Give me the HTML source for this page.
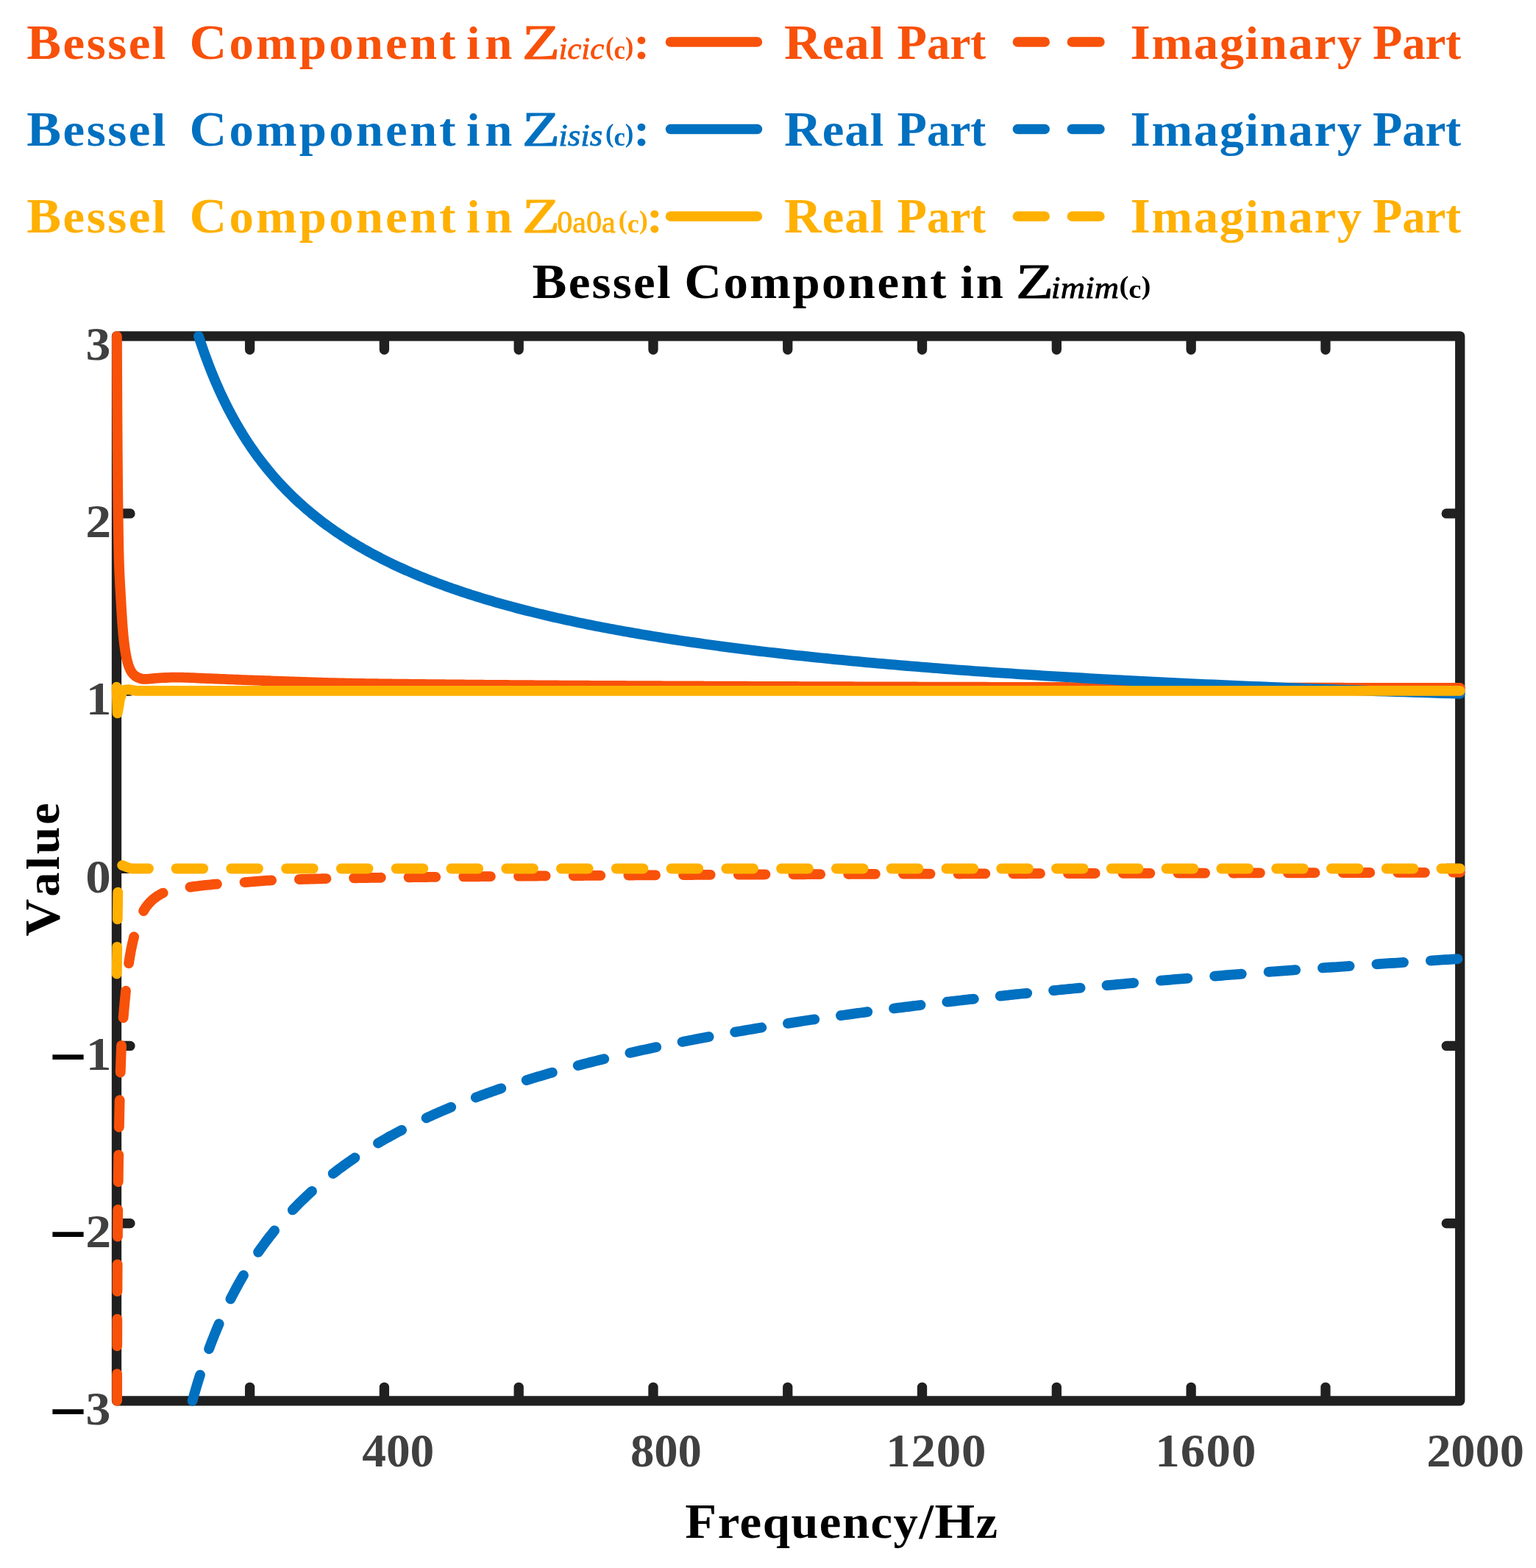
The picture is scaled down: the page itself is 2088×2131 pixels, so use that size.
<!DOCTYPE html>
<html lang="en">
<head>
<meta charset="utf-8">
<title>Bessel Component</title>
<style>
html,body{margin:0;padding:0;background:#fff;}
body{width:2088px;height:2131px;overflow:hidden;}
svg{display:block;}
text{font-family:"Liberation Serif","DejaVu Serif",serif;white-space:pre;}
.ln{fill:none;stroke-linecap:round;stroke-linejoin:round;}
</style>
</head>
<body>
<svg width="2088" height="2131" viewBox="0 0 2088 2131">
<rect width="2088" height="2131" fill="#fff"/>
<g class="ln" stroke="#202020" stroke-width="13.3">
<rect x="158.5" y="456.8" width="1826.20" height="1447.00"/>
<path d="M339.59 1901.8 V1885.30 M339.59 458.8 V475.30 M522.38 1901.8 V1885.30 M522.38 458.8 V475.30 M705.17 1901.8 V1885.30 M705.17 458.8 V475.30 M887.96 1901.8 V1885.30 M887.96 458.8 V475.30 M1070.75 1901.8 V1885.30 M1070.75 458.8 V475.30 M1253.54 1901.8 V1885.30 M1253.54 458.8 V475.30 M1436.33 1901.8 V1885.30 M1436.33 458.8 V475.30 M1619.12 1901.8 V1885.30 M1619.12 458.8 V475.30 M1801.91 1901.8 V1885.30 M1801.91 458.8 V475.30 M160.5 697.97 H177.00 M1982.7 697.97 H1966.20 M160.5 939.13 H177.00 M1982.7 939.13 H1966.20 M160.5 1180.30 H177.00 M1982.7 1180.30 H1966.20 M160.5 1421.47 H177.00 M1982.7 1421.47 H1966.20 M160.5 1662.63 H177.00 M1982.7 1662.63 H1966.20"/>
</g>
<path class="ln" stroke="#F8510A" stroke-width="13.8" d="M158.90 457.00 L158.92 460.78 L158.93 464.57 L158.95 468.35 L158.96 472.14 L158.98 475.92 L159.00 479.71 L159.02 483.49 L159.03 487.28 L159.05 491.06 L159.07 494.85 L159.09 498.63 L159.11 502.42 L159.12 506.20 L159.14 509.99 L159.16 513.77 L159.18 517.56 L159.20 521.34 L159.22 525.13 L159.24 528.91 L159.26 532.70 L159.28 536.48 L159.30 540.27 L159.32 544.05 L159.34 547.84 L159.36 551.62 L159.38 555.41 L159.41 559.19 L159.43 562.98 L159.45 566.76 L159.47 570.55 L159.49 574.33 L159.52 578.12 L159.54 581.90 L159.56 585.69 L159.59 589.47 L159.61 593.26 L159.64 597.04 L159.66 600.83 L159.69 604.61 L159.71 608.40 L159.74 612.18 L159.77 615.97 L159.80 619.75 L159.83 623.54 L159.86 627.32 L159.89 631.11 L159.92 634.89 L159.95 638.68 L159.98 642.46 L160.02 646.25 L160.05 650.03 L160.09 653.82 L160.12 657.60 L160.16 661.39 L160.20 665.17 L160.24 668.96 L160.28 672.74 L160.32 676.53 L160.36 680.31 L160.40 684.10 L160.45 687.88 L160.49 691.67 L160.54 695.45 L160.59 699.24 L160.64 703.02 L160.69 706.80 L160.74 710.59 L160.80 714.37 L160.86 718.16 L160.91 721.94 L160.98 725.73 L161.04 729.51 L161.11 733.30 L161.18 737.08 L161.25 740.87 L161.33 744.65 L161.42 748.44 L161.50 752.22 L161.60 756.00 L161.69 759.79 L161.80 763.57 L161.92 767.35 L162.06 771.13 L162.21 774.91 L162.37 778.70 L162.55 782.48 L162.73 786.26 L162.92 790.04 L163.12 793.82 L163.32 797.60 L163.53 801.38 L163.75 805.16 L163.97 808.94 L164.19 812.72 L164.42 816.50 L164.64 820.27 L164.86 824.05 L165.08 827.83 L165.31 831.61 L165.54 835.39 L165.78 839.17 L166.02 842.95 L166.28 846.73 L166.56 850.51 L166.85 854.28 L167.16 858.05 L167.50 861.82 L167.86 865.58 L168.25 869.35 L168.68 873.12 L169.14 876.90 L169.66 880.67 L170.23 884.43 L170.85 888.17 L171.54 891.87 L172.29 895.55 L173.15 899.23 L174.22 902.95 L175.49 906.61 L176.99 910.06 L178.76 913.24 L181.18 916.36 L184.05 918.91 L187.21 920.62 L190.84 922.08 L194.64 922.92 L198.35 922.95 L202.10 922.70 L205.88 922.32 L209.68 921.92 L213.48 921.59 L217.26 921.39 L221.04 921.19 L224.83 921.01 L228.61 920.85 L232.39 920.72 L236.18 920.63 L239.96 920.60 L243.74 920.62 L247.53 920.69 L251.31 920.79 L255.09 920.92 L258.87 921.07 L262.66 921.23 L266.44 921.41 L270.22 921.58 L274.00 921.75 L277.79 921.91 L281.57 922.06 L285.35 922.20 L289.13 922.36 L292.92 922.51 L296.70 922.67 L300.48 922.82 L304.26 922.98 L308.04 923.14 L311.83 923.30 L315.61 923.45 L319.39 923.60 L323.17 923.75 L326.95 923.89 L330.74 924.03 L334.52 924.16 L338.30 924.29 L342.08 924.43 L345.87 924.57 L349.65 924.70 L353.43 924.84 L357.21 924.98 L361.00 925.12 L364.78 925.25 L368.56 925.39 L372.35 925.53 L376.13 925.67 L379.91 925.80 L383.70 925.94 L387.48 926.08 L391.26 926.21 L395.04 926.34 L398.83 926.48 L402.61 926.61 L406.39 926.74 L410.18 926.86 L413.96 926.99 L417.74 927.11 L421.53 927.24 L425.31 927.36 L429.09 927.47 L432.88 927.59 L436.66 927.70 L440.45 927.81 L444.23 927.92 L448.01 928.03 L451.80 928.13 L455.58 928.23 L459.36 928.32 L463.15 928.41 L466.93 928.50 L470.71 928.59 L474.50 928.67 L478.28 928.74 L482.07 928.82 L485.85 928.88 L489.63 928.95 L493.42 929.01 L497.20 929.06 L500.99 929.11 L504.77 929.16 L508.55 929.21 L512.34 929.26 L516.12 929.30 L519.91 929.35 L523.69 929.40 L527.47 929.44 L531.26 929.49 L535.04 929.53 L538.83 929.58 L542.61 929.62 L546.40 929.66 L550.18 929.71 L553.96 929.75 L557.75 929.79 L561.53 929.83 L565.32 929.87 L569.10 929.92 L572.89 929.96 L576.67 930.00 L580.46 930.04 L584.24 930.08 L588.02 930.11 L591.81 930.15 L595.59 930.19 L599.38 930.23 L603.16 930.27 L606.95 930.30 L610.73 930.34 L614.52 930.38 L618.30 930.41 L622.09 930.45 L625.87 930.48 L629.66 930.52 L633.44 930.55 L637.23 930.58 L641.01 930.62 L644.79 930.65 L648.58 930.68 L652.36 930.72 L656.15 930.75 L659.93 930.78 L663.72 930.81 L667.50 930.84 L671.29 930.87 L675.07 930.90 L678.86 930.93 L682.64 930.96 L686.43 930.99 L690.21 931.02 L694.00 931.05 L697.78 931.08 L701.57 931.11 L705.35 931.14 L709.14 931.17 L712.92 931.19 L716.71 931.22 L720.49 931.25 L724.28 931.27 L728.06 931.30 L731.85 931.33 L735.63 931.35 L739.42 931.38 L743.20 931.40 L746.99 931.43 L750.78 931.45 L754.56 931.48 L758.35 931.50 L762.13 931.53 L765.92 931.55 L769.70 931.57 L773.49 931.60 L777.27 931.62 L781.06 931.64 L784.84 931.67 L788.63 931.69 L792.41 931.71 L796.20 931.73 L799.98 931.75 L803.77 931.78 L807.55 931.80 L811.34 931.82 L815.12 931.84 L818.91 931.86 L822.69 931.88 L826.48 931.90 L830.26 931.92 L834.05 931.94 L837.83 931.96 L841.62 931.98 L845.41 932.00 L849.19 932.02 L852.98 932.04 L856.76 932.06 L860.55 932.08 L864.33 932.10 L868.12 932.11 L871.90 932.13 L875.69 932.15 L879.47 932.17 L883.26 932.19 L887.04 932.21 L890.83 932.22 L894.61 932.24 L898.40 932.26 L902.18 932.28 L905.97 932.29 L909.75 932.31 L913.54 932.33 L917.32 932.35 L921.11 932.36 L924.89 932.38 L928.68 932.40 L932.47 932.41 L936.25 932.43 L940.04 932.45 L943.82 932.46 L947.61 932.48 L951.39 932.50 L955.18 932.51 L958.96 932.53 L962.75 932.54 L966.53 932.56 L970.32 932.58 L974.10 932.59 L977.89 932.61 L981.67 932.62 L985.46 932.64 L989.24 932.66 L993.03 932.67 L996.81 932.69 L1000.60 932.70 L1004.38 932.72 L1008.17 932.73 L1011.95 932.75 L1015.74 932.76 L1019.52 932.78 L1023.31 932.79 L1027.09 932.81 L1030.88 932.82 L1034.66 932.84 L1038.45 932.85 L1042.23 932.87 L1046.02 932.88 L1049.80 932.90 L1053.59 932.91 L1057.37 932.93 L1061.16 932.94 L1064.94 932.95 L1068.73 932.97 L1072.51 932.98 L1076.30 932.99 L1080.08 933.01 L1083.87 933.02 L1087.65 933.04 L1091.44 933.05 L1095.22 933.06 L1099.01 933.07 L1102.79 933.09 L1106.58 933.10 L1110.36 933.11 L1114.15 933.13 L1117.93 933.14 L1121.72 933.15 L1125.50 933.16 L1129.29 933.18 L1133.07 933.19 L1136.86 933.20 L1140.64 933.21 L1144.43 933.23 L1148.21 933.24 L1152.00 933.25 L1155.78 933.26 L1159.57 933.27 L1163.35 933.28 L1167.14 933.30 L1170.92 933.31 L1174.71 933.32 L1178.49 933.33 L1182.28 933.34 L1186.06 933.35 L1189.85 933.36 L1193.63 933.38 L1197.42 933.39 L1201.20 933.40 L1204.99 933.41 L1208.77 933.42 L1212.56 933.43 L1216.34 933.44 L1220.13 933.45 L1223.91 933.46 L1227.70 933.47 L1231.48 933.48 L1235.27 933.49 L1239.05 933.50 L1242.84 933.51 L1246.62 933.52 L1250.41 933.54 L1254.19 933.55 L1257.98 933.56 L1261.76 933.57 L1265.55 933.58 L1269.33 933.59 L1273.12 933.60 L1276.90 933.61 L1280.69 933.62 L1284.47 933.62 L1288.26 933.63 L1292.04 933.64 L1295.83 933.65 L1299.61 933.66 L1303.40 933.67 L1307.18 933.68 L1310.97 933.69 L1314.75 933.70 L1318.54 933.71 L1322.32 933.72 L1326.11 933.73 L1329.89 933.74 L1333.68 933.75 L1337.46 933.76 L1341.25 933.77 L1345.03 933.78 L1348.82 933.78 L1352.60 933.79 L1356.39 933.80 L1360.17 933.81 L1363.96 933.82 L1367.74 933.83 L1371.53 933.84 L1375.31 933.85 L1379.10 933.86 L1382.88 933.87 L1386.67 933.87 L1390.45 933.88 L1394.24 933.89 L1398.02 933.90 L1401.81 933.91 L1405.59 933.92 L1409.38 933.93 L1413.16 933.94 L1416.95 933.94 L1420.73 933.95 L1424.52 933.96 L1428.30 933.97 L1432.09 933.98 L1435.87 933.99 L1439.66 934.00 L1443.44 934.01 L1447.23 934.01 L1451.01 934.02 L1454.80 934.03 L1458.58 934.04 L1462.37 934.05 L1466.15 934.06 L1469.94 934.07 L1473.72 934.07 L1477.51 934.08 L1481.29 934.09 L1485.08 934.10 L1488.86 934.11 L1492.65 934.12 L1496.43 934.12 L1500.22 934.13 L1504.00 934.14 L1507.79 934.15 L1511.57 934.16 L1515.36 934.17 L1519.14 934.18 L1522.93 934.18 L1526.71 934.19 L1530.50 934.20 L1534.28 934.21 L1538.07 934.22 L1541.85 934.22 L1545.64 934.23 L1549.42 934.24 L1553.21 934.25 L1556.99 934.26 L1560.78 934.27 L1564.56 934.27 L1568.35 934.28 L1572.13 934.29 L1575.92 934.30 L1579.70 934.31 L1583.49 934.31 L1587.27 934.32 L1591.06 934.33 L1594.84 934.34 L1598.63 934.35 L1602.41 934.35 L1606.20 934.36 L1609.98 934.37 L1613.77 934.38 L1617.55 934.38 L1621.34 934.39 L1625.12 934.40 L1628.91 934.41 L1632.69 934.42 L1636.48 934.42 L1640.26 934.43 L1644.05 934.44 L1647.83 934.45 L1651.62 934.45 L1655.40 934.46 L1659.19 934.47 L1662.97 934.48 L1666.76 934.48 L1670.54 934.49 L1674.33 934.50 L1678.11 934.51 L1681.90 934.51 L1685.68 934.52 L1689.47 934.53 L1693.25 934.53 L1697.04 934.54 L1700.82 934.55 L1704.61 934.56 L1708.39 934.56 L1712.18 934.57 L1715.96 934.58 L1719.75 934.58 L1723.53 934.59 L1727.32 934.60 L1731.10 934.61 L1734.89 934.61 L1738.67 934.62 L1742.46 934.63 L1746.24 934.63 L1750.03 934.64 L1753.81 934.65 L1757.60 934.65 L1761.38 934.66 L1765.17 934.67 L1768.95 934.67 L1772.74 934.68 L1776.52 934.69 L1780.31 934.69 L1784.09 934.70 L1787.88 934.71 L1791.66 934.71 L1795.45 934.72 L1799.23 934.73 L1803.02 934.73 L1806.80 934.74 L1810.59 934.75 L1814.37 934.75 L1818.16 934.76 L1821.94 934.76 L1825.73 934.77 L1829.51 934.78 L1833.30 934.78 L1837.08 934.79 L1840.87 934.80 L1844.65 934.80 L1848.44 934.81 L1852.22 934.81 L1856.01 934.82 L1859.79 934.83 L1863.58 934.83 L1867.36 934.84 L1871.15 934.84 L1874.93 934.85 L1878.72 934.85 L1882.50 934.86 L1886.29 934.87 L1890.07 934.87 L1893.86 934.88 L1897.64 934.88 L1901.43 934.89 L1905.21 934.89 L1909.00 934.90 L1912.78 934.90 L1916.57 934.91 L1920.35 934.92 L1924.14 934.92 L1927.92 934.93 L1931.71 934.93 L1935.49 934.94 L1939.28 934.94 L1943.06 934.95 L1946.85 934.95 L1950.63 934.96 L1954.42 934.96 L1958.20 934.97 L1961.99 934.97 L1965.77 934.98 L1969.56 934.98 L1973.34 934.99 L1977.13 934.99 L1980.91 935.00 L1984.70 935.00"/>
<path class="ln" stroke="#F8510A" stroke-width="13.8" d="M159.10 1903.80 L159.10 1900.71 L159.10 1897.62 L159.11 1894.53 L159.11 1891.43 L159.11 1888.34 L159.11 1885.25 L159.12 1882.16 L159.12 1879.07 L159.13 1875.98 L159.13 1872.88 L159.13 1869.79 L159.14 1867.10 M159.22 1829.42 L159.23 1826.07 L159.24 1822.98 L159.25 1819.88 L159.25 1816.79 L159.26 1813.70 L159.27 1810.61 L159.28 1807.52 L159.29 1804.43 L159.30 1801.34 L159.31 1798.24 L159.31 1795.15 L159.32 1792.72 M159.48 1755.03 L159.49 1751.87 L159.51 1748.78 L159.52 1745.69 L159.54 1742.59 L159.56 1739.50 L159.57 1736.41 L159.59 1733.32 L159.61 1730.23 L159.63 1727.14 L159.65 1724.05 L159.67 1720.95 L159.68 1718.34 M159.94 1680.65 L159.97 1677.23 L160.00 1674.14 L160.02 1671.05 L160.05 1667.96 L160.08 1664.86 L160.11 1661.77 L160.14 1658.68 L160.17 1655.59 L160.20 1652.50 L160.23 1649.41 L160.26 1646.32 L160.29 1643.95 M160.72 1606.27 L160.76 1603.04 L160.80 1599.94 L160.84 1596.85 L160.88 1593.76 L160.92 1590.67 L160.97 1587.58 L161.01 1584.49 L161.05 1581.40 L161.10 1578.31 L161.14 1575.21 L161.19 1572.12 L161.23 1569.58 M161.89 1531.90 L161.95 1528.85 L162.01 1525.75 L162.08 1522.66 L162.14 1519.57 L162.20 1516.48 L162.27 1513.39 L162.34 1510.30 L162.40 1507.21 L162.47 1504.12 L162.55 1501.03 L162.62 1497.94 L162.68 1495.21 M163.73 1457.54 L163.84 1454.23 L163.94 1451.14 L164.04 1448.05 L164.15 1444.96 L164.25 1441.87 L164.36 1438.78 L164.48 1435.69 L164.59 1432.60 L164.71 1429.51 L164.84 1426.42 L164.98 1423.33 L165.10 1420.87 M167.62 1383.27 L167.87 1380.15 L168.13 1377.07 L168.40 1373.99 L168.67 1370.91 L168.95 1367.83 L169.24 1364.75 L169.53 1361.68 L169.83 1358.60 L170.14 1355.52 L170.44 1352.44 L170.75 1349.37 L171.02 1346.73 M175.08 1309.27 L175.56 1305.91 L176.03 1302.86 L176.52 1299.80 L177.05 1296.75 L177.61 1293.69 L178.19 1290.64 L178.81 1287.60 L179.46 1284.57 L180.13 1281.54 L180.84 1278.53 L181.57 1275.54 L182.15 1273.28 M195.14 1238.00 L196.69 1235.33 L198.50 1232.62 L200.39 1230.13 L202.46 1227.72 L204.64 1225.43 L206.91 1223.30 L209.23 1221.34 L211.66 1219.49 L214.23 1217.70 L216.93 1216.03 L219.70 1214.53 L221.70 1213.60 M258.43 1205.55 L261.77 1205.08 L264.83 1204.67 L267.90 1204.28 L270.96 1203.90 L274.04 1203.54 L277.11 1203.20 L280.19 1202.87 L283.27 1202.56 L286.35 1202.26 L289.43 1201.98 L292.51 1201.71 L294.90 1201.51 M332.51 1199.10 L335.70 1198.87 L338.78 1198.64 L341.87 1198.40 L344.95 1198.15 L348.03 1197.90 L351.11 1197.65 L354.20 1197.40 L357.28 1197.17 L360.36 1196.95 L363.45 1196.74 L366.53 1196.56 L369.11 1196.42 M406.77 1195.09 L409.79 1195.01 L412.88 1194.92 L415.97 1194.83 L419.06 1194.75 L422.15 1194.67 L425.24 1194.58 L428.33 1194.50 L431.42 1194.42 L434.51 1194.34 L437.60 1194.26 L440.69 1194.18 L443.45 1194.11 M481.13 1193.30 L484.41 1193.24 L487.50 1193.19 L490.59 1193.14 L493.68 1193.09 L496.77 1193.04 L499.86 1193.00 L502.95 1192.96 L506.04 1192.92 L509.14 1192.88 L512.23 1192.84 L515.32 1192.80 L517.82 1192.77 M555.50 1192.29 L558.59 1192.26 L561.69 1192.22 L564.78 1192.18 L567.87 1192.15 L570.96 1192.11 L574.05 1192.07 L577.14 1192.04 L580.23 1192.00 L583.32 1191.97 L586.42 1191.93 L589.51 1191.90 L592.20 1191.87 M630.21 1191.45 L633.23 1191.42 L636.32 1191.39 L639.41 1191.35 L642.50 1191.32 L645.59 1191.29 L648.68 1191.26 L651.78 1191.23 L654.87 1191.20 L657.96 1191.17 L661.05 1191.13 L664.14 1191.10 L666.91 1191.08 M704.91 1190.72 L708.31 1190.69 L711.40 1190.66 L714.49 1190.63 L717.58 1190.60 L720.67 1190.57 L723.76 1190.55 L726.86 1190.52 L729.95 1190.49 L733.04 1190.47 L736.13 1190.44 L739.22 1190.41 L741.61 1190.39 M779.62 1190.08 L782.95 1190.05 L786.04 1190.03 L789.13 1190.01 L792.22 1189.98 L795.31 1189.96 L798.40 1189.93 L801.49 1189.91 L804.59 1189.89 L807.68 1189.86 L810.77 1189.84 L813.86 1189.82 L816.32 1189.80 M854.33 1189.53 L857.59 1189.51 L860.68 1189.49 L863.77 1189.47 L866.86 1189.45 L869.95 1189.43 L873.04 1189.41 L876.14 1189.39 L879.23 1189.37 L882.32 1189.35 L885.41 1189.33 L888.50 1189.31 L891.03 1189.29 M929.04 1189.06 L932.23 1189.04 L935.32 1189.02 L938.41 1189.00 L941.50 1188.99 L944.59 1188.97 L947.69 1188.95 L950.78 1188.93 L953.87 1188.92 L956.96 1188.90 L960.05 1188.88 L963.14 1188.86 L965.74 1188.85 M1003.75 1188.65 L1006.87 1188.63 L1009.96 1188.62 L1013.05 1188.60 L1016.14 1188.59 L1019.24 1188.57 L1022.33 1188.56 L1025.42 1188.54 L1028.51 1188.53 L1031.60 1188.51 L1034.69 1188.50 L1037.79 1188.48 L1040.45 1188.47 M1078.46 1188.29 L1081.51 1188.28 L1084.60 1188.27 L1087.69 1188.25 L1090.78 1188.24 L1093.88 1188.23 L1096.97 1188.21 L1100.06 1188.20 L1103.15 1188.19 L1106.24 1188.17 L1109.33 1188.16 L1112.42 1188.15 L1115.16 1188.14 M1153.17 1187.98 L1156.59 1187.97 L1159.68 1187.96 L1162.77 1187.95 L1165.87 1187.94 L1168.96 1187.92 L1172.05 1187.91 L1175.14 1187.90 L1178.23 1187.89 L1181.32 1187.88 L1184.41 1187.87 L1187.51 1187.86 L1189.87 1187.85 M1227.88 1187.72 L1231.23 1187.71 L1234.32 1187.70 L1237.41 1187.69 L1240.50 1187.68 L1243.60 1187.67 L1246.69 1187.66 L1249.78 1187.65 L1252.87 1187.64 L1255.96 1187.63 L1259.05 1187.62 L1262.15 1187.61 L1264.58 1187.60 M1302.58 1187.49 L1305.87 1187.48 L1308.96 1187.47 L1312.05 1187.46 L1315.15 1187.45 L1318.24 1187.44 L1321.33 1187.43 L1324.42 1187.43 L1327.51 1187.42 L1330.60 1187.41 L1333.69 1187.40 L1336.79 1187.39 L1339.28 1187.38 M1377.29 1187.28 L1380.51 1187.27 L1383.60 1187.26 L1386.69 1187.26 L1389.79 1187.25 L1392.88 1187.24 L1395.97 1187.23 L1399.06 1187.22 L1402.15 1187.22 L1405.24 1187.21 L1408.34 1187.20 L1411.43 1187.19 L1413.99 1187.18 M1452.00 1187.09 L1455.15 1187.08 L1458.24 1187.07 L1461.33 1187.06 L1464.43 1187.06 L1467.52 1187.05 L1470.61 1187.04 L1473.70 1187.03 L1476.79 1187.02 L1479.88 1187.02 L1482.98 1187.01 L1486.07 1187.00 L1488.70 1186.99 M1526.71 1186.90 L1529.79 1186.89 L1532.88 1186.88 L1535.97 1186.87 L1539.07 1186.86 L1542.16 1186.86 L1545.25 1186.85 L1548.34 1186.84 L1551.43 1186.83 L1554.52 1186.82 L1557.62 1186.81 L1560.71 1186.81 L1563.41 1186.80 M1601.42 1186.70 L1604.43 1186.69 L1607.52 1186.68 L1610.62 1186.67 L1613.71 1186.66 L1616.80 1186.65 L1619.89 1186.64 L1622.98 1186.64 L1626.07 1186.63 L1629.16 1186.62 L1632.26 1186.61 L1635.35 1186.60 L1638.12 1186.59 M1676.13 1186.49 L1679.51 1186.48 L1682.61 1186.47 L1685.70 1186.47 L1688.79 1186.46 L1691.88 1186.45 L1694.97 1186.44 L1698.06 1186.43 L1701.16 1186.42 L1704.25 1186.42 L1707.34 1186.41 L1710.43 1186.40 L1712.83 1186.39 M1750.84 1186.29 L1754.15 1186.28 L1757.25 1186.27 L1760.34 1186.27 L1763.43 1186.26 L1766.52 1186.25 L1769.61 1186.24 L1772.70 1186.23 L1775.80 1186.23 L1778.89 1186.22 L1781.98 1186.21 L1785.07 1186.20 L1787.54 1186.20 M1825.55 1186.10 L1828.79 1186.09 L1831.89 1186.08 L1834.98 1186.07 L1838.07 1186.07 L1841.16 1186.06 L1844.25 1186.05 L1847.34 1186.04 L1850.44 1186.03 L1853.53 1186.03 L1856.62 1186.02 L1859.71 1186.01 L1862.25 1186.00 M1900.26 1185.91 L1903.43 1185.90 L1906.53 1185.89 L1909.62 1185.88 L1912.71 1185.88 L1915.80 1185.87 L1918.89 1185.86 L1921.98 1185.85 L1925.08 1185.85 L1928.17 1185.84 L1931.26 1185.83 L1934.35 1185.82 L1936.96 1185.82 M1974.97 1185.72 L1978.08 1185.72 L1981.17 1185.71 L1984.26 1185.70 L1984.70 1185.70"/>
<path class="ln" stroke="#0070C0" stroke-width="13.8" d="M269.99 456.80 L270.77 459.23 L271.56 461.64 L272.36 464.05 L273.16 466.45 L273.96 468.84 L274.78 471.23 L275.59 473.60 L276.42 475.96 L278.08 480.67 L279.77 485.34 L281.48 489.97 L283.22 494.58 L284.98 499.14 L286.76 503.68 L288.57 508.18 L290.41 512.65 L292.27 517.08 L294.16 521.49 L296.07 525.86 L298.01 530.20 L299.98 534.50 L301.98 538.78 L304.00 543.02 L306.06 547.23 L308.14 551.41 L310.25 555.56 L312.40 559.68 L314.57 563.77 L316.77 567.83 L319.00 571.86 L321.27 575.85 L323.57 579.82 L325.90 583.76 L328.26 587.67 L330.65 591.55 L333.08 595.40 L335.55 599.23 L338.05 603.02 L340.58 606.79 L343.15 610.52 L345.76 614.23 L348.40 617.92 L351.08 621.57 L353.80 625.20 L356.56 628.80 L359.35 632.37 L362.19 635.91 L365.06 639.43 L367.98 642.93 L370.93 646.39 L373.93 649.83 L376.97 653.24 L380.06 656.63 L383.18 659.99 L386.35 663.33 L389.57 666.64 L392.83 669.92 L396.14 673.18 L399.49 676.42 L402.89 679.63 L406.34 682.82 L409.84 685.98 L413.39 689.11 L416.99 692.23 L420.63 695.32 L424.33 698.38 L428.09 701.42 L431.89 704.44 L435.75 707.43 L439.66 710.40 L443.63 713.35 L447.66 716.28 L451.74 719.18 L453.80 720.62 L455.88 722.06 L457.97 723.49 L460.07 724.92 L462.19 726.34 L464.33 727.75 L466.48 729.16 L468.65 730.56 L470.83 731.96 L473.02 733.35 L475.23 734.74 L477.46 736.12 L479.71 737.49 L481.96 738.86 L484.24 740.23 L486.53 741.59 L488.84 742.94 L491.16 744.29 L493.50 745.63 L495.85 746.97 L498.23 748.30 L500.62 749.63 L503.02 750.95 L505.44 752.27 L507.88 753.58 L510.34 754.89 L512.82 756.19 L515.31 757.48 L517.82 758.77 L520.34 760.06 L522.89 761.34 L525.45 762.61 L528.03 763.88 L530.63 765.15 L533.25 766.41 L535.88 767.66 L538.54 768.91 L541.21 770.16 L543.90 771.39 L546.61 772.63 L549.34 773.86 L552.09 775.08 L554.86 776.30 L557.64 777.51 L560.45 778.72 L563.28 779.93 L566.12 781.13 L568.99 782.32 L571.88 783.51 L574.78 784.69 L577.71 785.87 L580.66 787.05 L583.63 788.22 L586.62 789.38 L589.63 790.54 L592.66 791.70 L595.71 792.85 L598.79 793.99 L601.88 795.14 L605.00 796.27 L608.14 797.40 L611.30 798.53 L614.49 799.65 L617.69 800.77 L620.92 801.88 L624.18 802.99 L627.45 804.09 L630.75 805.19 L634.07 806.29 L637.41 807.37 L640.78 808.46 L644.17 809.54 L647.59 810.61 L651.03 811.69 L654.49 812.75 L657.98 813.81 L661.49 814.87 L665.03 815.92 L668.59 816.97 L672.18 818.02 L675.79 819.06 L679.43 820.09 L683.09 821.12 L686.78 822.15 L690.50 823.17 L694.24 824.18 L698.00 825.20 L701.80 826.21 L705.62 827.21 L709.47 828.21 L713.34 829.20 L717.24 830.19 L721.17 831.18 L725.13 832.16 L729.11 833.14 L733.13 834.11 L737.17 835.08 L741.24 836.05 L745.34 837.01 L749.46 837.97 L753.62 838.92 L757.80 839.86 L762.02 840.81 L766.26 841.75 L770.54 842.68 L774.84 843.61 L779.17 844.54 L783.54 845.46 L787.93 846.38 L792.36 847.30 L796.82 848.21 L801.31 849.11 L805.83 850.01 L810.38 850.91 L814.96 851.81 L819.58 852.70 L824.23 853.58 L828.91 854.46 L833.63 855.34 L838.37 856.21 L843.15 857.08 L847.97 857.95 L852.82 858.81 L857.70 859.67 L862.62 860.52 L867.57 861.37 L872.55 862.21 L877.58 863.06 L882.63 863.89 L887.73 864.73 L892.85 865.56 L898.02 866.38 L903.22 867.20 L908.46 868.02 L913.73 868.84 L919.04 869.65 L924.39 870.45 L929.77 871.25 L935.20 872.05 L940.66 872.85 L946.16 873.64 L951.70 874.42 L957.28 875.21 L962.90 875.99 L968.55 876.76 L974.25 877.53 L979.99 878.30 L985.76 879.07 L991.58 879.83 L997.44 880.58 L1003.34 881.33 L1009.28 882.08 L1015.26 882.83 L1021.29 883.57 L1027.35 884.31 L1033.46 885.04 L1039.62 885.77 L1045.81 886.50 L1052.05 887.22 L1058.34 887.94 L1064.67 888.66 L1071.04 889.37 L1077.45 890.08 L1083.92 890.78 L1090.43 891.48 L1096.98 892.18 L1103.58 892.87 L1110.22 893.56 L1116.92 894.25 L1123.66 894.93 L1130.44 895.61 L1137.28 896.29 L1144.16 896.96 L1151.09 897.63 L1158.07 898.29 L1165.10 898.95 L1172.18 899.61 L1179.31 900.27 L1186.49 900.92 L1193.72 901.56 L1201.00 902.21 L1208.33 902.85 L1215.71 903.48 L1223.15 904.12 L1230.63 904.75 L1238.17 905.37 L1245.77 905.99 L1253.41 906.61 L1261.11 907.23 L1268.87 907.84 L1276.67 908.45 L1284.54 909.06 L1292.46 909.66 L1300.43 910.26 L1308.46 910.85 L1316.55 911.44 L1324.69 912.03 L1332.89 912.61 L1341.15 913.20 L1349.47 913.77 L1357.84 914.35 L1366.28 914.92 L1374.77 915.49 L1383.32 916.05 L1391.94 916.61 L1400.61 917.17 L1409.35 917.72 L1418.14 918.27 L1427.00 918.82 L1435.92 919.36 L1444.91 919.90 L1453.95 920.44 L1463.06 920.98 L1472.24 921.51 L1481.47 922.03 L1490.78 922.56 L1500.15 923.08 L1509.58 923.59 L1519.08 924.11 L1528.65 924.62 L1538.29 925.13 L1547.99 925.63 L1557.76 926.13 L1567.60 926.63 L1577.51 927.12 L1587.49 927.61 L1597.54 928.10 L1607.66 928.59 L1617.85 929.07 L1628.11 929.54 L1638.45 930.02 L1648.85 930.49 L1659.33 930.96 L1669.89 931.42 L1680.52 931.88 L1691.22 932.34 L1702.00 932.80 L1712.85 933.25 L1723.78 933.70 L1734.79 934.14 L1745.88 934.59 L1757.04 935.02 L1768.28 935.46 L1779.60 935.89 L1791.00 936.32 L1802.48 936.75 L1814.04 937.17 L1825.69 937.59 L1837.41 938.01 L1849.22 938.42 L1861.11 938.83 L1873.08 939.24 L1885.14 939.64 L1897.28 940.04 L1909.51 940.44 L1921.82 940.83 L1934.22 941.22 L1946.71 941.61 L1959.28 941.99 L1971.95 942.38 L1984.70 942.75"/>
<path class="ln" stroke="#0070C0" stroke-width="13.8" d="M261.58 1903.80 L262.45 1900.66 L263.33 1897.54 L264.21 1894.42 L265.10 1891.32 L266.00 1888.24 L266.91 1885.16 L267.83 1882.10 L268.75 1879.05 L269.68 1876.01 L270.62 1872.99 L271.56 1869.97 L272.00 1868.61 M284.08 1833.33 L285.23 1830.26 L286.29 1827.42 L287.37 1824.59 L288.46 1821.77 L289.56 1818.96 L290.66 1816.17 L291.94 1812.99 L293.23 1809.82 L294.53 1806.67 L295.84 1803.53 L297.17 1800.41 L297.67 1799.24 M313.40 1765.43 L314.82 1762.62 L316.40 1759.54 L318.01 1756.47 L319.62 1753.42 L321.26 1750.38 L322.91 1747.35 L324.57 1744.34 L326.26 1741.35 L327.96 1738.37 L329.67 1735.40 L330.96 1733.21 M351.06 1701.79 L352.81 1699.28 L354.78 1696.49 L356.77 1693.73 L358.78 1690.97 L360.81 1688.23 L362.86 1685.50 L364.94 1682.78 L367.03 1680.08 L369.14 1677.38 L371.28 1674.71 L373.09 1672.46 M397.74 1644.47 L399.98 1642.14 L402.31 1639.74 L404.67 1637.36 L407.04 1634.99 L409.44 1632.62 L411.86 1630.27 L414.31 1627.93 L416.78 1625.60 L419.27 1623.27 L421.79 1620.96 L424.06 1618.91 M452.67 1594.99 L455.38 1592.91 L457.88 1591.00 L460.41 1589.10 L462.96 1587.21 L465.53 1585.32 L468.12 1583.45 L470.73 1581.58 L473.37 1579.71 L476.03 1577.85 L478.71 1576.01 L481.41 1574.16 L482.40 1573.49 M513.95 1553.60 L516.96 1551.83 L519.93 1550.11 L522.54 1548.62 L525.17 1547.12 L527.83 1545.64 L530.50 1544.15 L533.19 1542.68 L535.90 1541.20 L538.62 1539.74 L541.37 1538.27 L544.14 1536.81 L546.05 1535.82 M579.54 1519.40 L582.44 1518.06 L585.51 1516.67 L588.59 1515.27 L591.70 1513.89 L594.83 1512.51 L597.99 1511.13 L601.17 1509.75 L604.37 1508.38 L607.48 1507.07 L610.31 1505.88 L613.16 1504.69 M646.74 1491.49 L649.78 1490.35 L652.89 1489.21 L656.02 1488.07 L659.16 1486.93 L662.33 1485.79 L665.51 1484.65 L668.72 1483.52 L671.95 1482.40 L675.19 1481.27 L678.46 1480.15 L681.31 1479.18 M715.63 1468.05 L718.81 1467.07 L721.96 1466.11 L725.13 1465.15 L728.31 1464.19 L731.51 1463.23 L734.73 1462.27 L737.97 1461.32 L741.23 1460.37 L744.50 1459.42 L747.79 1458.48 L750.82 1457.62 M785.63 1448.11 L788.63 1447.33 L791.81 1446.50 L795.02 1445.68 L798.24 1444.85 L801.47 1444.03 L804.72 1443.21 L807.99 1442.39 L811.27 1441.58 L814.57 1440.76 L817.89 1439.95 L821.21 1439.14 M856.35 1430.92 L859.48 1430.21 L862.71 1429.49 L865.94 1428.77 L869.19 1428.06 L872.46 1427.34 L875.74 1426.62 L879.03 1425.91 L882.35 1425.20 L885.67 1424.49 L889.01 1423.78 L892.20 1423.10 M927.56 1415.90 L930.58 1415.31 L933.83 1414.67 L937.10 1414.04 L940.38 1413.41 L943.67 1412.77 L946.98 1412.14 L950.29 1411.51 L953.63 1410.88 L956.98 1410.25 L960.34 1409.63 L963.61 1409.02 M999.12 1402.64 L1002.40 1402.07 L1005.68 1401.51 L1008.97 1400.94 L1012.28 1400.37 L1015.59 1399.81 L1018.93 1399.25 L1022.27 1398.68 L1025.63 1398.12 L1029.00 1397.56 L1032.38 1397.00 L1035.31 1396.52 M1070.94 1390.82 L1073.95 1390.35 L1077.26 1389.84 L1080.57 1389.33 L1083.90 1388.82 L1087.24 1388.31 L1090.59 1387.80 L1093.95 1387.29 L1097.33 1386.79 L1100.71 1386.28 L1104.12 1385.77 L1107.22 1385.31 M1142.94 1380.17 L1146.06 1379.74 L1149.38 1379.27 L1152.72 1378.81 L1156.06 1378.35 L1159.43 1377.88 L1162.79 1377.42 L1166.18 1376.96 L1169.57 1376.50 L1172.98 1376.04 L1176.39 1375.58 L1179.30 1375.19 M1215.08 1370.52 L1218.08 1370.14 L1221.42 1369.72 L1224.78 1369.29 L1228.14 1368.87 L1231.52 1368.45 L1234.91 1368.03 L1238.30 1367.61 L1241.72 1367.18 L1245.13 1366.76 L1248.57 1366.34 L1251.50 1365.99 M1287.33 1361.71 L1290.76 1361.31 L1294.12 1360.92 L1297.50 1360.54 L1300.88 1360.15 L1304.28 1359.76 L1307.68 1359.37 L1311.09 1358.98 L1314.52 1358.59 L1317.95 1358.21 L1321.40 1357.82 L1323.79 1357.55 M1359.66 1353.62 L1362.92 1353.27 L1366.30 1352.91 L1369.68 1352.55 L1373.08 1352.19 L1376.49 1351.83 L1379.91 1351.47 L1383.34 1351.12 L1386.77 1350.76 L1390.22 1350.40 L1393.67 1350.04 L1396.16 1349.78 M1432.06 1346.15 L1435.23 1345.84 L1438.63 1345.50 L1442.02 1345.17 L1445.44 1344.83 L1448.86 1344.50 L1452.29 1344.16 L1455.73 1343.83 L1459.17 1343.50 L1462.63 1343.16 L1466.10 1342.83 L1468.58 1342.59 M1504.51 1339.22 L1507.90 1338.91 L1511.31 1338.59 L1514.73 1338.28 L1518.15 1337.97 L1521.59 1337.66 L1525.02 1337.35 L1528.47 1337.03 L1531.94 1336.72 L1535.40 1336.41 L1538.80 1336.11 L1541.06 1335.91 M1577.82 1332.69 L1581.11 1332.41 L1584.53 1332.11 L1587.95 1331.82 L1591.40 1331.53 L1594.84 1331.24 L1598.29 1330.94 L1601.76 1330.65 L1605.23 1330.36 L1608.70 1330.07 L1612.04 1329.79 L1614.39 1329.59 M1651.16 1326.58 L1654.53 1326.31 L1657.97 1326.04 L1661.40 1325.76 L1664.85 1325.49 L1668.31 1325.21 L1671.77 1324.94 L1675.25 1324.66 L1678.73 1324.39 L1682.22 1324.11 L1685.63 1323.85 L1687.75 1323.68 M1724.54 1320.85 L1727.81 1320.61 L1731.26 1320.35 L1734.71 1320.09 L1738.17 1319.83 L1741.64 1319.57 L1745.12 1319.31 L1748.60 1319.05 L1752.04 1318.80 L1755.40 1318.55 L1758.76 1318.30 L1761.14 1318.13 M1797.94 1315.46 L1801.10 1315.24 L1804.56 1314.99 L1808.01 1314.75 L1811.48 1314.50 L1814.97 1314.26 L1818.45 1314.01 L1821.91 1313.77 L1825.28 1313.53 L1828.65 1313.30 L1832.01 1313.06 L1834.55 1312.89 M1871.37 1310.37 L1874.50 1310.16 L1877.97 1309.93 L1881.43 1309.69 L1884.92 1309.46 L1888.41 1309.23 L1891.90 1309.00 L1895.37 1308.77 L1898.75 1308.54 L1902.13 1308.32 L1905.51 1308.10 L1907.98 1307.93 M1944.81 1305.55 L1948.14 1305.34 L1951.62 1305.12 L1955.10 1304.90 L1958.58 1304.67 L1961.95 1304.46 L1965.32 1304.25 L1968.70 1304.04 L1972.08 1303.82 L1975.48 1303.61 L1978.87 1303.40 L1981.43 1303.24"/>
<path class="ln" stroke="#FFB000" stroke-width="13.8" d="M158.50 933.70 L159.00 950.00 L159.60 969.30 L161.50 960.00 L163.00 950.00 L166.00 941.00 L169.00 937.50 L174.60 937.00 L185.00 938.90 L1984.70 938.90"/>
<path class="ln" stroke="#FFB000" stroke-width="13.8" d="M158.70 1323.50 L158.75 1320.03 L158.80 1316.56 L158.86 1313.10 L158.91 1309.63 L158.96 1306.16 L159.01 1302.69 L159.06 1299.23 L159.11 1295.76 L159.17 1292.29 L159.22 1288.82 L159.25 1286.80 M159.79 1249.35 L159.83 1246.21 L159.88 1242.74 L159.93 1239.27 L159.98 1235.80 L160.03 1232.33 L160.08 1228.86 L160.13 1225.39 L160.17 1221.92 L160.22 1218.45 L160.27 1214.98 L160.35 1212.66 M166.16 1176.00 L169.16 1177.14 L172.42 1178.38 L175.67 1179.62 L179.00 1180.50 L182.50 1180.50 L186.00 1180.50 L189.50 1180.50 L193.00 1180.50 L196.50 1180.50 L200.00 1180.50 L202.03 1180.50 M239.49 1180.50 L242.99 1180.50 L246.49 1180.50 L249.99 1180.50 L253.49 1180.50 L256.99 1180.50 L260.49 1180.50 L263.99 1180.50 L267.49 1180.50 L270.98 1180.50 L274.48 1180.50 L276.19 1180.50 M314.27 1180.50 L317.48 1180.50 L320.98 1180.50 L324.48 1180.50 L327.98 1180.50 L331.47 1180.50 L334.97 1180.50 L338.47 1180.50 L341.97 1180.50 L345.47 1180.50 L348.97 1180.50 L350.97 1180.50 M389.05 1180.50 L392.46 1180.50 L395.96 1180.50 L399.46 1180.50 L402.96 1180.50 L406.46 1180.50 L409.96 1180.50 L413.46 1180.50 L416.96 1180.50 L420.46 1180.50 L423.96 1180.50 L425.75 1180.50 M463.83 1180.50 L466.95 1180.50 L470.45 1180.50 L473.95 1180.50 L477.45 1180.50 L480.95 1180.50 L484.45 1180.50 L487.95 1180.50 L491.45 1180.50 L494.95 1180.50 L498.45 1180.50 L500.53 1180.50 M538.61 1180.50 L541.94 1180.50 L545.44 1180.50 L548.94 1180.50 L552.44 1180.50 L555.94 1180.50 L559.44 1180.50 L562.94 1180.50 L566.44 1180.50 L569.93 1180.50 L573.43 1180.50 L575.31 1180.50 M613.39 1180.50 L616.43 1180.50 L619.93 1180.50 L623.43 1180.50 L626.93 1180.50 L630.42 1180.50 L633.92 1180.50 L637.42 1180.50 L640.92 1180.50 L644.42 1180.50 L647.92 1180.50 L650.09 1180.50 M688.17 1180.50 L691.41 1180.50 L694.91 1180.50 L698.41 1180.50 L701.91 1180.50 L705.41 1180.50 L708.91 1180.50 L712.41 1180.50 L715.91 1180.50 L719.41 1180.50 L722.91 1180.50 L724.87 1180.50 M762.95 1180.50 L766.40 1180.50 L769.90 1180.50 L773.40 1180.50 L776.90 1180.50 L780.40 1180.50 L783.90 1180.50 L787.40 1180.50 L790.90 1180.50 L794.40 1180.50 L797.90 1180.50 L799.65 1180.50 M837.73 1180.50 L840.89 1180.50 L844.39 1180.50 L847.89 1180.50 L851.39 1180.50 L854.89 1180.50 L858.39 1180.50 L861.89 1180.50 L865.39 1180.50 L868.89 1180.50 L872.38 1180.50 L874.43 1180.50 M912.51 1180.50 L915.88 1180.50 L919.38 1180.50 L922.88 1180.50 L926.38 1180.50 L929.88 1180.50 L933.37 1180.50 L936.87 1180.50 L940.37 1180.50 L943.87 1180.50 L947.37 1180.50 L949.21 1180.50 M987.29 1180.50 L990.37 1180.50 L993.86 1180.50 L997.36 1180.50 L1000.86 1180.50 L1004.36 1180.50 L1007.86 1180.50 L1011.36 1180.50 L1014.86 1180.50 L1018.36 1180.50 L1021.86 1180.50 L1023.99 1180.50 M1062.07 1180.50 L1065.35 1180.50 L1068.85 1180.50 L1072.35 1180.50 L1075.85 1180.50 L1079.35 1180.50 L1082.85 1180.50 L1086.35 1180.50 L1089.85 1180.50 L1093.35 1180.50 L1096.85 1180.50 L1098.77 1180.50 M1136.85 1180.50 L1140.34 1180.50 L1143.84 1180.50 L1147.34 1180.50 L1150.84 1180.50 L1154.34 1180.50 L1157.84 1180.50 L1161.34 1180.50 L1164.84 1180.50 L1168.34 1180.50 L1171.83 1180.50 L1173.55 1180.50 M1211.63 1180.50 L1214.83 1180.50 L1218.33 1180.50 L1221.83 1180.50 L1225.33 1180.50 L1228.83 1180.50 L1232.32 1180.50 L1235.82 1180.50 L1239.32 1180.50 L1242.82 1180.50 L1246.32 1180.50 L1248.33 1180.50 M1286.41 1180.50 L1289.82 1180.50 L1293.31 1180.50 L1296.81 1180.50 L1300.31 1180.50 L1303.81 1180.50 L1307.31 1180.50 L1310.81 1180.50 L1314.31 1180.50 L1317.81 1180.50 L1321.31 1180.50 L1323.11 1180.50 M1361.19 1180.50 L1364.30 1180.50 L1367.80 1180.50 L1371.30 1180.50 L1374.80 1180.50 L1378.30 1180.50 L1381.80 1180.50 L1385.30 1180.50 L1388.80 1180.50 L1392.30 1180.50 L1395.80 1180.50 L1397.89 1180.50 M1435.97 1180.50 L1439.29 1180.50 L1442.79 1180.50 L1446.29 1180.50 L1449.79 1180.50 L1453.29 1180.50 L1456.79 1180.50 L1460.29 1180.50 L1463.79 1180.50 L1467.29 1180.50 L1470.79 1180.50 L1472.67 1180.50 M1510.75 1180.50 L1513.78 1180.50 L1517.28 1180.50 L1520.78 1180.50 L1524.28 1180.50 L1527.78 1180.50 L1531.28 1180.50 L1534.77 1180.50 L1538.27 1180.50 L1541.77 1180.50 L1545.27 1180.50 L1547.45 1180.50 M1585.53 1180.50 L1588.77 1180.50 L1592.27 1180.50 L1595.76 1180.50 L1599.26 1180.50 L1602.76 1180.50 L1606.26 1180.50 L1609.76 1180.50 L1613.26 1180.50 L1616.76 1180.50 L1620.26 1180.50 L1622.23 1180.50 M1660.31 1180.50 L1663.75 1180.50 L1667.25 1180.50 L1670.75 1180.50 L1674.25 1180.50 L1677.75 1180.50 L1681.25 1180.50 L1684.75 1180.50 L1688.25 1180.50 L1691.75 1180.50 L1695.25 1180.50 L1697.01 1180.50 M1735.09 1180.50 L1738.24 1180.50 L1741.74 1180.50 L1745.24 1180.50 L1748.74 1180.50 L1752.24 1180.50 L1755.74 1180.50 L1759.24 1180.50 L1762.74 1180.50 L1766.24 1180.50 L1769.74 1180.50 L1771.79 1180.50 M1809.87 1180.50 L1813.23 1180.50 L1816.73 1180.50 L1820.23 1180.50 L1823.73 1180.50 L1827.23 1180.50 L1830.73 1180.50 L1834.22 1180.50 L1837.72 1180.50 L1841.22 1180.50 L1844.72 1180.50 L1846.57 1180.50 M1884.65 1180.50 L1887.72 1180.50 L1891.22 1180.50 L1894.71 1180.50 L1898.21 1180.50 L1901.71 1180.50 L1905.21 1180.50 L1908.71 1180.50 L1912.21 1180.50 L1915.71 1180.50 L1919.21 1180.50 L1921.35 1180.50 M1959.43 1180.50 L1962.70 1180.50 L1966.20 1180.50 L1969.70 1180.50 L1973.20 1180.50 L1976.70 1180.50 L1980.20 1180.50 L1983.70 1180.50 L1984.70 1180.50"/>
<path class="ln" stroke="#F8510A" stroke-width="13.6" d="M911.50 57.0 H1029.40"/>
<path class="ln" stroke="#F8510A" stroke-width="13.6" d="M1383.40 57.0 H1420.20 M1457.40 57.0 H1494.90"/>
<path class="ln" stroke="#0070C0" stroke-width="13.6" d="M911.50 175.5 H1029.40"/>
<path class="ln" stroke="#0070C0" stroke-width="13.6" d="M1383.40 175.5 H1420.20 M1457.40 175.5 H1494.90"/>
<path class="ln" stroke="#FFB000" stroke-width="13.6" d="M911.50 294.0 H1029.40"/>
<path class="ln" stroke="#FFB000" stroke-width="13.6" d="M1383.40 294.0 H1420.20 M1457.40 294.0 H1494.90"/>
<text transform="translate(36.15 79.60) scale(1.0400 1)" font-size="67.5" fill="#F8510A" font-weight="bold" letter-spacing="2.45">B<tspan font-size="64.12">essel</tspan></text>
<text transform="translate(257.49 79.60) scale(1.0400 1)" font-size="67.5" fill="#F8510A" font-weight="bold" letter-spacing="3.12">C<tspan font-size="64.12">omponent</tspan></text>
<text transform="translate(634.10 79.60) scale(1.0400 1)" font-size="67.5" fill="#F8510A" font-weight="bold" letter-spacing="6.30"><tspan font-size="64.12">in</tspan></text>
<text transform="translate(709.64 79.60) scale(1.2468 1)" font-size="67.5" fill="#F8510A" stroke="#F8510A" stroke-width="1.1">Z</text>
<text transform="translate(759.44 79.60) scale(1.0320 1)" font-size="41.5" fill="#F8510A" font-style="italic" stroke="#F8510A" stroke-width="0.8">icic</text>
<text transform="translate(822.95 79.60) scale(0.9586 1)" font-size="36" fill="#F8510A" font-weight="bold"><tspan dy="-4.32">(</tspan><tspan dy="4.32">c</tspan><tspan dy="-4.32">)</tspan></text>
<text transform="translate(861.12 79.60) scale(1.0716 1)" font-size="62.775" fill="#F8510A" font-weight="bold">:</text>
<text transform="translate(1065.95 79.60) scale(1.0400 1)" font-size="67.5" fill="#F8510A" font-weight="bold" letter-spacing="1.00">R<tspan font-size="64.12">eal</tspan></text>
<text transform="translate(1219.61 79.60) scale(0.9800 1)" font-size="67.5" fill="#F8510A" font-weight="bold">P<tspan font-size="64.12">art</tspan></text>
<text transform="translate(1536.54 79.60) scale(1.0400 1)" font-size="67.5" fill="#F8510A" font-weight="bold" letter-spacing="1.57">I<tspan font-size="64.12">maginary</tspan></text>
<text transform="translate(1866.01 79.60) scale(0.9767 1)" font-size="67.5" fill="#F8510A" font-weight="bold">P<tspan font-size="64.12">art</tspan></text>
<text transform="translate(36.15 197.70) scale(1.0400 1)" font-size="67.5" fill="#0070C0" font-weight="bold" letter-spacing="2.45">B<tspan font-size="64.12">essel</tspan></text>
<text transform="translate(257.49 197.70) scale(1.0400 1)" font-size="67.5" fill="#0070C0" font-weight="bold" letter-spacing="3.12">C<tspan font-size="64.12">omponent</tspan></text>
<text transform="translate(634.10 197.70) scale(1.0400 1)" font-size="67.5" fill="#0070C0" font-weight="bold" letter-spacing="6.30"><tspan font-size="64.12">in</tspan></text>
<text transform="translate(709.64 197.70) scale(1.2468 1)" font-size="67.5" fill="#0070C0" stroke="#0070C0" stroke-width="1.1">Z</text>
<text transform="translate(759.33 197.70) scale(1.0814 1)" font-size="41.5" fill="#0070C0" font-style="italic" stroke="#0070C0" stroke-width="0.8">isis</text>
<text transform="translate(822.95 197.70) scale(0.9586 1)" font-size="36" fill="#0070C0" font-weight="bold"><tspan dy="-4.32">(</tspan><tspan dy="4.32">c</tspan><tspan dy="-4.32">)</tspan></text>
<text transform="translate(861.12 197.70) scale(1.0716 1)" font-size="62.775" fill="#0070C0" font-weight="bold">:</text>
<text transform="translate(1065.95 197.70) scale(1.0400 1)" font-size="67.5" fill="#0070C0" font-weight="bold" letter-spacing="1.00">R<tspan font-size="64.12">eal</tspan></text>
<text transform="translate(1219.61 197.70) scale(0.9800 1)" font-size="67.5" fill="#0070C0" font-weight="bold">P<tspan font-size="64.12">art</tspan></text>
<text transform="translate(1536.54 197.70) scale(1.0400 1)" font-size="67.5" fill="#0070C0" font-weight="bold" letter-spacing="1.57">I<tspan font-size="64.12">maginary</tspan></text>
<text transform="translate(1866.01 197.70) scale(0.9767 1)" font-size="67.5" fill="#0070C0" font-weight="bold">P<tspan font-size="64.12">art</tspan></text>
<text transform="translate(36.15 315.80) scale(1.0400 1)" font-size="67.5" fill="#FFB000" font-weight="bold" letter-spacing="2.45">B<tspan font-size="64.12">essel</tspan></text>
<text transform="translate(257.49 315.80) scale(1.0400 1)" font-size="67.5" fill="#FFB000" font-weight="bold" letter-spacing="3.12">C<tspan font-size="64.12">omponent</tspan></text>
<text transform="translate(634.10 315.80) scale(1.0400 1)" font-size="67.5" fill="#FFB000" font-weight="bold" letter-spacing="6.30"><tspan font-size="64.12">in</tspan></text>
<text transform="translate(709.64 315.80) scale(1.2468 1)" font-size="67.5" fill="#FFB000" stroke="#FFB000" stroke-width="1.1">Z</text>
<text transform="translate(757.32 315.80) scale(1.0017 1)" font-size="42" fill="#FFB000" stroke="#FFB000" stroke-width="0.8">0a0a</text>
<text transform="translate(840.68 315.80) scale(0.9995 1)" font-size="36" fill="#FFB000" font-weight="bold"><tspan dy="-4.32">(</tspan><tspan dy="4.32">c</tspan><tspan dy="-4.32">)</tspan></text>
<text transform="translate(878.87 315.80) scale(1.0813 1)" font-size="62.775" fill="#FFB000" font-weight="bold">:</text>
<text transform="translate(1065.95 315.80) scale(1.0400 1)" font-size="67.5" fill="#FFB000" font-weight="bold" letter-spacing="1.00">R<tspan font-size="64.12">eal</tspan></text>
<text transform="translate(1219.61 315.80) scale(0.9800 1)" font-size="67.5" fill="#FFB000" font-weight="bold">P<tspan font-size="64.12">art</tspan></text>
<text transform="translate(1536.54 315.80) scale(1.0400 1)" font-size="67.5" fill="#FFB000" font-weight="bold" letter-spacing="1.57">I<tspan font-size="64.12">maginary</tspan></text>
<text transform="translate(1866.01 315.80) scale(0.9767 1)" font-size="67.5" fill="#FFB000" font-weight="bold">P<tspan font-size="64.12">art</tspan></text>
<text transform="translate(723.55 404.60) scale(1.0400 1)" font-size="67.5" fill="#000" font-weight="bold" letter-spacing="2.20">B<tspan font-size="64.12">essel</tspan></text>
<text transform="translate(930.29 404.60) scale(1.0400 1)" font-size="67.5" fill="#000" font-weight="bold" letter-spacing="2.42">C<tspan font-size="64.12">omponent</tspan></text>
<text transform="translate(1305.60 404.60) scale(1.0400 1)" font-size="67.5" fill="#000" font-weight="bold" letter-spacing="2.55"><tspan font-size="64.12">in</tspan></text>
<text transform="translate(1380.97 404.60) scale(1.2380 1)" font-size="67.5" fill="#000" stroke="#000" stroke-width="1.1">Z</text>
<text transform="translate(1428.87 404.60) scale(1.1097 1)" font-size="41.5" fill="#000" font-style="italic" stroke="#000" stroke-width="0.8">imim</text>
<text transform="translate(1521.46 404.60) scale(1.0730 1)" font-size="36" fill="#000" font-weight="bold"><tspan dy="-4.32">(</tspan><tspan dy="4.32">c</tspan><tspan dy="-4.32">)</tspan></text>
<text transform="translate(931.35 2090.00) scale(1.0400 1)" font-size="67.5" fill="#000" font-weight="bold" letter-spacing="1.43">F<tspan font-size="64.12">requency</tspan>/H<tspan font-size="64.12">z</tspan></text>
<text transform="translate(80.00 1272.40) rotate(-90) scale(1.0400 1)" font-size="67.5" fill="#000" font-weight="bold" letter-spacing="2.88">V<tspan font-size="64.12">alue</tspan></text>
<text transform="translate(116.49 489.10) scale(1.0539 1)" font-size="64.3" fill="#404040" font-weight="bold">3</text>
<text transform="translate(116.20 730.27) scale(1.0868 1)" font-size="64.3" fill="#404040" font-weight="bold">2</text>
<text transform="translate(116.74 971.43) scale(1.0802 1)" font-size="64.3" fill="#404040" font-weight="bold">1</text>
<text transform="translate(116.24 1212.60) scale(1.0738 1)" font-size="64.3" fill="#404040" font-weight="bold">0</text>
<text transform="translate(66.80 1469.87) scale(0.9097 1)" font-size="100" fill="#000" font-weight="bold">−</text>
<text transform="translate(116.74 1453.77) scale(1.0802 1)" font-size="64.3" fill="#404040" font-weight="bold">1</text>
<text transform="translate(66.80 1711.03) scale(0.9097 1)" font-size="100" fill="#000" font-weight="bold">−</text>
<text transform="translate(116.20 1694.93) scale(1.0868 1)" font-size="64.3" fill="#404040" font-weight="bold">2</text>
<text transform="translate(66.80 1952.20) scale(0.9097 1)" font-size="100" fill="#000" font-weight="bold">−</text>
<text transform="translate(116.49 1936.10) scale(1.0539 1)" font-size="64.3" fill="#404040" font-weight="bold">3</text>
<text transform="translate(492.22 1993.40) scale(1.0171 1)" font-size="64.3" fill="#404040" font-weight="bold">400</text>
<text transform="translate(856.94 1993.40) scale(1.0052 1)" font-size="64.3" fill="#404040" font-weight="bold">800</text>
<text transform="translate(1204.25 1993.40) scale(1.0400 1)" font-size="64.3" fill="#404040" font-weight="bold" letter-spacing="0.80">1200</text>
<text transform="translate(1570.25 1993.40) scale(1.0400 1)" font-size="64.3" fill="#404040" font-weight="bold" letter-spacing="1.12">1600</text>
<text transform="translate(1939.14 1993.40) scale(1.0336 1)" font-size="64.3" fill="#404040" font-weight="bold">2000</text>
</svg>
</body>
</html>
